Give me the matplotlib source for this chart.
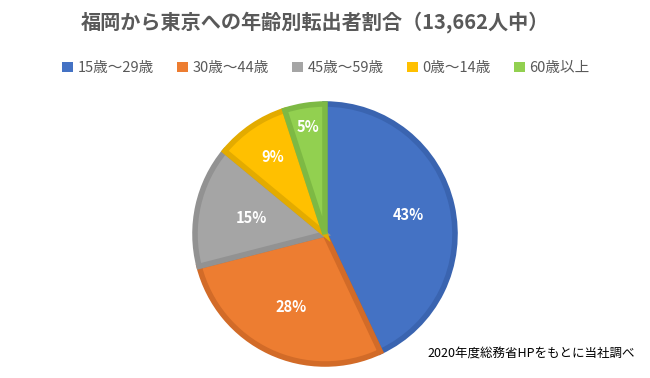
import numpy as np
import matplotlib
matplotlib.use('Agg')
import matplotlib.pyplot as plt
from matplotlib.patches import Patch

plt.rcParams['font.family'] = ['Noto Sans CJK JP', 'DejaVu Sans']

# data
labels = ['15歳～29歳', '30歳～44歳', '45歳～59歳', '0歳～14歳', '60歳以上']
shares = [43, 28, 15, 9, 5]
title = '福岡から東京への年齢別転出者割合（13,662人中）'
note = '2020年度総務省HPをもとに当社調べ'

fills = ['#4472C4', '#ED7D31', '#A5A5A5', '#FFC000', '#92D050']
edges = ['#3A64B0', '#D26B28', '#929292', '#E3AB00', '#7DB944']
label_r = [0.66, 0.62, 0.58, 0.72, 0.83]

fig = plt.figure(figsize=(6.5, 3.78), dpi=100)
ax = fig.add_axes([(325 - 130) / 650, (378 - 234 - 130) / 378, 260 / 650, 260 / 378])

wedges, _ = ax.pie(shares, colors=fills, startangle=90, counterclock=False,
                   radius=1, wedgeprops=dict(linewidth=4, joinstyle='miter'))
for w, ec in zip(wedges, edges):
    w.set_edgecolor(ec)
    w.set_clip_on(False)
ax.set_xlim(-1, 1)
ax.set_ylim(-1, 1)
ax.set_aspect('equal')

# percent labels
for w, v, r in zip(wedges, shares, label_r):
    ang = np.deg2rad((w.theta1 + w.theta2) / 2)
    ax.text(r * np.cos(ang), r * np.sin(ang), f'{v}%', ha='center', va='center',
            color='white', fontsize=10.5, fontweight='bold')

fig.text(315 / 650, 1 - 22 / 378, title, ha='center', va='center', fontsize=14.5,
         fontweight='bold', color='#595959')

handles = [Patch(facecolor=c, edgecolor='none') for c in fills]
fig.legend(handles, labels, loc='center', bbox_to_anchor=(326 / 650, 1 - 68 / 378), ncol=5,
           frameon=False, fontsize=10.5, handlelength=0.75, handleheight=0.75,
           handletextpad=0.3, columnspacing=1.6, labelcolor='#595959')

fig.text(635 / 650, 1 - 354 / 378, note, ha='right', va='center', fontsize=9,
         color='black')

fig.savefig('out.png', dpi=100)
